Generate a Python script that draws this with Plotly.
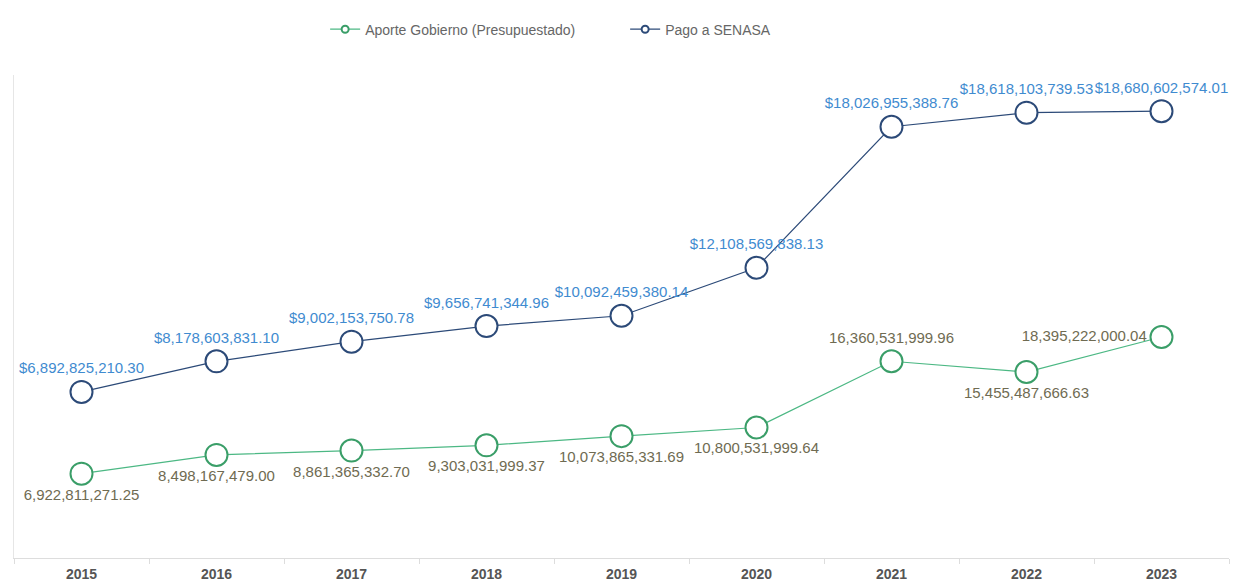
import plotly.graph_objects as go

years = ["2015", "2016", "2017", "2018", "2019", "2020", "2021", "2022", "2023"]
aporte = [6922811271.25, 8498167479.00, 8861365332.70, 9303031999.37, 10073865331.69,
          10800531999.64, 16360531999.96, 15455487666.63, 18395222000.04]
pago = [6892825210.30, 8178603831.10, 9002153750.78, 9656741344.96, 10092459380.14,
        12108569838.13, 18026955388.76, 18618103739.53, 18680602574.01]
aporte_pos = ["bottom center"] * 6 + ["top center", "bottom center", "middle left"]
pago_pos = ["top center"] * 9

name_a = "Aporte Gobierno (Presupuestado)"
name_p = "Pago a SENASA"

green_line = "#4cb884"
green_mark = "#3a9e68"
green_text = "#6f6b52"
blue_line = "#2c4a78"
blue_text = "#3f8bd0"
FONT = "Liberation Sans, Arial, sans-serif"

fig = go.Figure()
fig.add_trace(go.Scatter(
    x=years, y=aporte, mode="lines+markers+text", name=name_a, showlegend=False,
    line=dict(color=green_line, width=1.2),
    marker=dict(size=22, color="white", line=dict(color=green_mark, width=2)),
    text=[f"{v:,.2f}" for v in aporte], textposition=aporte_pos,
    textfont=dict(family=FONT, size=15, color=green_text),
    cliponaxis=False, yaxis="y2"))
fig.add_trace(go.Scatter(
    x=years, y=pago, mode="lines+markers+text", name=name_p, showlegend=False,
    line=dict(color=blue_line, width=1.2),
    marker=dict(size=22, color="white", line=dict(color=blue_line, width=2)),
    text=[f"${v:,.2f}" for v in pago], textposition=pago_pos,
    textfont=dict(family=FONT, size=15, color=blue_text),
    cliponaxis=False, yaxis="y"))
# legend entries with small markers
fig.add_trace(go.Scatter(x=[None], y=[None], mode="lines+markers", name=name_a,
                         line=dict(color=green_line, width=1.2),
                         marker=dict(size=7, color="white", line=dict(color=green_mark, width=2)),
                         yaxis="y2"))
fig.add_trace(go.Scatter(x=[None], y=[None], mode="lines+markers", name=name_p,
                         line=dict(color=blue_line, width=1.2),
                         marker=dict(size=7, color="white", line=dict(color=blue_line, width=2)),
                         yaxis="y"))

fig.update_layout(
    width=1255, height=587,
    margin=dict(l=6, r=34, t=62, b=37),
    paper_bgcolor="white", plot_bgcolor="white",
    font=dict(family=FONT),
    legend=dict(orientation="h", x=0.503, xanchor="center", y=1.094, yanchor="middle",
                font=dict(size=14, color="#666666"), itemwidth=30, traceorder="normal",
                entrywidth=255),
    xaxis=dict(type="category", categoryorder="array", categoryarray=years,
               range=[-0.5, 8.5], showgrid=False, showline=True, linecolor="#dddddd",
               linewidth=1, ticks="outside", tickson="boundaries", ticklen=5,
               tickcolor="#dddddd", ticklabelstandoff=3,
               tickfont=dict(family=FONT, size=14, color="#555555", weight="bold")),
    yaxis=dict(range=[-0.08e9, 20.2e9], showgrid=False, zeroline=False, showline=True,
               linecolor="#e6e6e6", showticklabels=False, ticks=""),
    yaxis2=dict(range=[-0.16e9, 40.4e9], overlaying="y", side="right", showgrid=False,
                zeroline=False, showline=False, showticklabels=False, ticks=""),
)

fig.write_html("out.html")
